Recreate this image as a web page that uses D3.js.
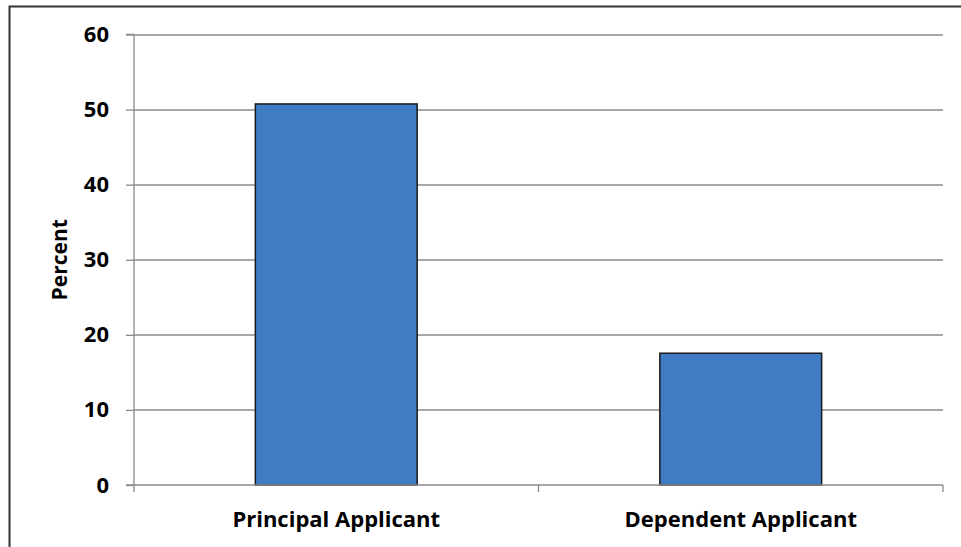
<!DOCTYPE html>
<html>
<head>
<meta charset="utf-8">
<script src="https://cdn.jsdelivr.net/npm/d3@7"></script>
<style>
  body { margin: 0; background: #fff; }
  svg { display: block; }
  .lbl { font-family: "Open Sans", sans-serif; font-weight: bold; fill: #000; }
</style>
</head>
<body>
<svg id="chart" width="961" height="547"></svg>
<script>
// chart data
var categories = ["Principal Applicant", "Dependent Applicant"];
var percents = [50.75, 17.55];
var yTicks = [0, 10, 20, 30, 40, 50, 60];

var margin = {top: 34.5, right: 18, bottom: 62, left: 134};
var width = 961 - margin.left - margin.right;
var height = 547 - margin.top - margin.bottom;

var svg = d3.select("#chart");

// outer frame (only top and left edges show in the picture)
svg.append("rect")
  .attr("x", 9.5).attr("y", 6.5)
  .attr("width", 1000).attr("height", 600)
  .attr("fill", "none").attr("stroke", "#333").attr("stroke-width", 2);

var g = svg.append("g").attr("transform", "translate(" + margin.left + "," + margin.top + ")");

var y = d3.scaleLinear().domain([0, 60]).range([height, 0]);
var x = d3.scaleBand().domain(categories).range([0, width])
  .paddingInner(0.6).paddingOuter(0.3);
var xEdges = d3.scaleBand().domain(categories).range([0, width]);

// gridlines
g.selectAll(".grid")
  .data(yTicks.filter(function(d){ return d > 0; }))
  .enter().append("line")
  .attr("x1", 0).attr("x2", width)
  .attr("y1", function(d){ return Math.round(y(d)) + 0.5; })
  .attr("y2", function(d){ return Math.round(y(d)) + 0.5; })
  .attr("stroke", "#8a8a8a").attr("stroke-width", 1.3);

// bars
g.selectAll(".bar")
  .data(percents)
  .enter().append("rect")
  .attr("x", function(d, i){ return x(categories[i]); })
  .attr("y", function(d){ return y(d); })
  .attr("width", x.bandwidth())
  .attr("height", function(d){ return height - y(d); })
  .attr("fill", "#3f7cc3")
  .attr("stroke", "#1a1a1a").attr("stroke-width", 1.5);

// y axis
var yAxis = g.append("g")
  .call(d3.axisLeft(y).tickValues(yTicks).tickSize(8).tickPadding(17));
yAxis.select(".domain").attr("stroke", "#8a8a8a").attr("stroke-width", 1.3)
  .attr("d", "M-8,0H0V" + height + "H-8");
yAxis.selectAll(".tick line").attr("stroke", "#8a8a8a").attr("stroke-width", 1.3);
yAxis.selectAll(".tick text").attr("class", "lbl").style("font-size", "22px");

// x axis line with ticks at category edges
var xa = g.append("g").attr("transform", "translate(0," + height + ")");
xa.append("line").attr("x1", 0).attr("x2", width).attr("y1", 0).attr("y2", 0)
  .attr("stroke", "#8a8a8a").attr("stroke-width", 1.3);
var edges = categories.map(function(c){ return xEdges(c); }).concat([width]);
xa.selectAll(".xt").data(edges).enter().append("line")
  .attr("x1", function(d){ return d; }).attr("x2", function(d){ return d; })
  .attr("y1", 0).attr("y2", 7)
  .attr("stroke", "#8a8a8a").attr("stroke-width", 1.3);
xa.selectAll(".xl").data(categories).enter().append("text")
  .attr("class", "lbl")
  .attr("x", function(d){ return x(d) + x.bandwidth() / 2; })
  .attr("y", 42)
  .attr("text-anchor", "middle")
  .style("font-size", "22px")
  .text(function(d){ return d; });

// y title
svg.append("text")
  .attr("class", "lbl")
  .attr("transform", "translate(67," + (margin.top + height / 2) + ") rotate(-90)")
  .attr("text-anchor", "middle")
  .style("font-size", "21px")
  .text("Percent");
</script>
</body>
</html>
